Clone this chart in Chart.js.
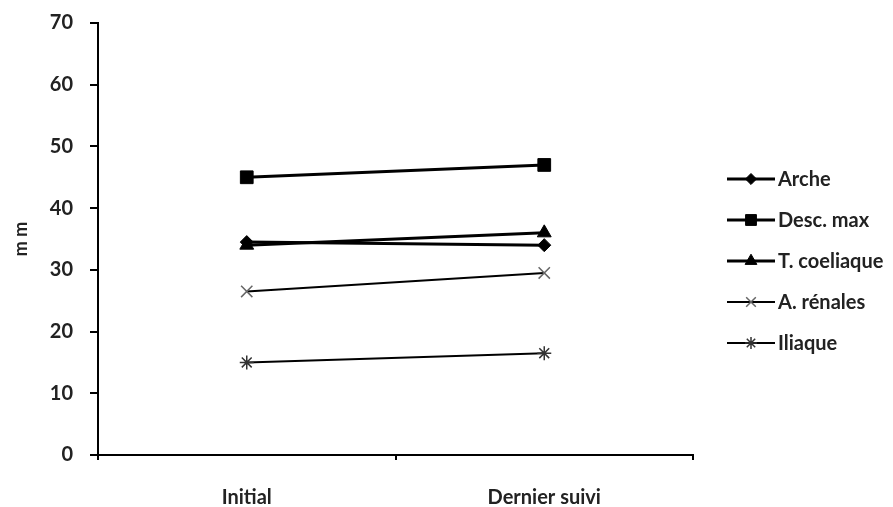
<!DOCTYPE html>
<html>
<head>
<meta charset="utf-8">
<script src="https://cdn.jsdelivr.net/npm/chart.js@4.4.1/dist/chart.umd.min.js"></script>
<style>
  html, body { margin: 0; padding: 0; background: #fff; }
  #wrap { width: 893px; height: 507px; }
</style>
</head>
<body>
<div id="wrap"><canvas id="c" width="893" height="507"></canvas></div>
<script>
// ── DATA ───────────────────────────────────────
const categories  = ['Initial', 'Dernier suivi'];
const seriesNames = ['Arche', 'Desc. max', 'T. coeliaque', 'A. rénales', 'Iliaque'];
const arche       = [34.5, 34];
const descMax     = [45, 47];
const tCoeliaque  = [34, 36];
const aRenales    = [26.5, 29.5];
const iliaque     = [15, 16.5];
const yTicks      = [0, 10, 20, 30, 40, 50, 60, 70];

const FONT = { family: 'Lato, "Open Sans", sans-serif', size: 20, weight: 'bold' };
const INK  = '#222';

// ── SERIES STYLE ──────────────────────────────
const STYLE = [
  { data: arche,      pointStyle: 'rectRot',  radius: 6.5, lw: 3, pc: '#000', pw: 1 },
  { data: descMax,    pointStyle: 'rect',     radius: 9,   lw: 3, pc: '#000', pw: 1 },
  { data: tCoeliaque, pointStyle: 'triangle', radius: 8,   lw: 3, pc: '#000', pw: 1 },
  { data: aRenales,   pointStyle: 'crossRot', radius: 8,   lw: 2, pc: '#666', pw: 1.5 },
  { data: iliaque,    pointStyle: 'star',     radius: 7,   lw: 2, pc: '#333', pw: 1.5 }
];

const datasets = STYLE.map((s, i) => ({
  label: seriesNames[i],
  data: s.data,
  borderColor: '#000',
  borderWidth: s.lw,
  pointStyle: s.pointStyle,
  pointRadius: s.radius,
  pointBackgroundColor: s.pc,
  pointBorderColor: s.pc,
  pointBorderWidth: s.pw,
  tension: 0
}));

// ── LEGEND (line + marker, Excel style) ───────
const lineLegend = {
  id: 'lineLegend',
  afterDraw(chart) {
    const ctx = chart.ctx;
    const x0 = chart.chartArea.right + 34, x1 = x0 + 48;
    const top = 179, gap = 41;
    ctx.save();
    chart.data.datasets.forEach((ds, i) => {
      const y = top + i * gap;
      ctx.strokeStyle = '#000';
      ctx.lineWidth = ds.borderWidth;
      ctx.beginPath(); ctx.moveTo(x0, y); ctx.lineTo(x1, y); ctx.stroke();
      ctx.fillStyle = ds.pointBackgroundColor;
      ctx.strokeStyle = ds.pointBorderColor;
      ctx.lineWidth = ds.pointBorderWidth;
      Chart.helpers.drawPoint(ctx, {
        pointStyle: ds.pointStyle, radius: ds.pointRadius * 0.85,
        rotation: 0, borderWidth: ds.pointBorderWidth
      }, (x0 + x1) / 2, y);
      ctx.fillStyle = INK;
      ctx.font = `${FONT.weight} ${FONT.size}px ${FONT.family}`;
      ctx.textBaseline = 'middle';
      ctx.textAlign = 'left';
      ctx.fillText(ds.label, x1 + 3, y + 1);
    });
    ctx.restore();
  }
};

// ── CHART ─────────────────────────────────────
new Chart(document.getElementById('c'), {
  type: 'line',
  data: { labels: categories, datasets },
  plugins: [lineLegend],
  options: {
    responsive: false,
    animation: false,
    layout: { padding: { top: 23, right: 200, left: 0, bottom: 0 } },
    plugins: { legend: { display: false }, tooltip: { enabled: false } },
    scales: {
      x: {
        offset: true,
        grid: { offset: true, drawOnChartArea: false, drawTicks: true, tickLength: 5, color: '#000', lineWidth: 2 },
        border: { display: true, color: '#000', width: 2 },
        ticks: { color: INK, font: FONT, padding: 26, maxRotation: 0 },
        afterFit(scale) { scale.height = 52; }
      },
      y: {
        min: 0, max: 70,
        afterBuildTicks(scale) { scale.ticks = yTicks.map(v => ({ value: v })); },
        grid: { drawOnChartArea: false, drawTicks: true, tickLength: 8, color: '#000', lineWidth: 2 },
        border: { display: true, color: '#000', width: 2 },
        ticks: { color: INK, font: FONT, padding: 17 },
        title: { display: true, text: 'm m', color: INK, font: { ...FONT, size: 18 }, padding: { top: 10, bottom: 0 } },
        afterFit(scale) { scale.width = 98; scale.paddingTop = 0; scale.paddingBottom = 0; }
      }
    }
  }
});
</script>
</body>
</html>
